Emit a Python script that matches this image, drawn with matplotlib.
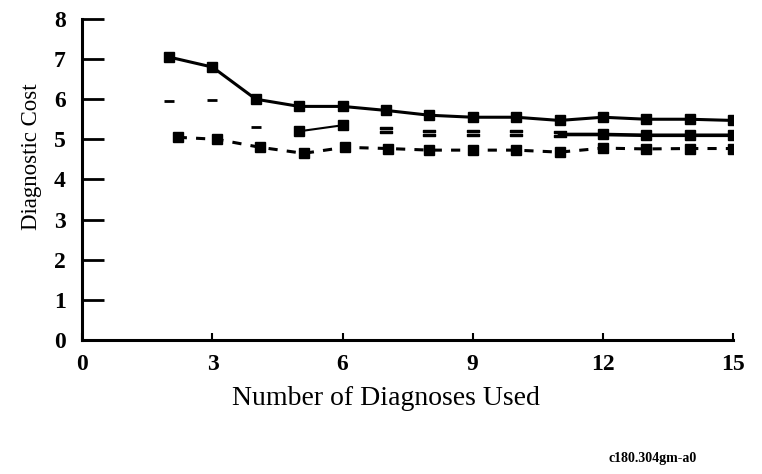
import matplotlib
matplotlib.use('Agg')
import matplotlib.pyplot as plt

# valeurs
diag_top = [2, 3, 4, 5, 6, 7, 8, 9, 10, 11, 12, 13, 14, 15]
cost_top = [7.05, 6.8, 6.0, 5.82, 5.82, 5.72, 5.6, 5.55, 5.55, 5.47, 5.55, 5.5, 5.5, 5.47]

diag_mid = [2, 3, 4, 5, 6, 7, 8, 9, 10, 11, 12, 13, 14, 15]
cost_mid = [5.95, 5.98, 5.3, 5.2, 5.35, 5.22, 5.15, 5.15, 5.15, 5.12, 5.12, 5.1, 5.1, 5.1]

diag_low = [2.2, 3.1, 4.1, 5.1, 6.05, 7.05, 8, 9, 10, 11, 12, 13, 14, 15]
cost_low = [5.05, 5.0, 4.8, 4.65, 4.8, 4.77, 4.73, 4.73, 4.73, 4.68, 4.78, 4.76, 4.77, 4.77]

xticks = [0, 3, 6, 9, 12, 15]
yticks = [0, 1, 2, 3, 4, 5, 6, 7, 8]

plt.rcParams['font.family'] = ['Liberation Serif', 'DejaVu Serif']

fig = plt.figure(figsize=(7.62, 4.74), dpi=100)
ax = fig.add_axes([0.108, 0.283, 0.854, 0.677])

# courbe du haut : trait plein
ax.plot(diag_top, cost_top, color='black', lw=2.2, marker='s', ms=7)

# courbe du milieu : mal imprimée, seulement des morceaux visibles
ax.plot(diag_mid[:3], cost_mid[:3], ls='none', marker='_', ms=7, mew=2, color='black')
ax.plot(diag_mid[3:5], cost_mid[3:5], color='black', lw=1.5, marker='s', ms=6.5)
ax.plot(diag_mid[5:10], cost_mid[5:10], ls='none', marker='$=$', ms=9, color='black')
ax.plot(diag_mid[9:], cost_mid[9:], color='black', lw=2.6, marker='s', ms=7, markevery=[1, 2, 3, 4])

# courbe du bas : tirets
ax.plot(diag_low, cost_low, color='black', lw=2.2, ls=(0, (3, 3)), marker='s', ms=7)

ax.set_xlim(0, 15)
ax.set_ylim(0, 8)
ax.set_xticks(xticks)
ax.set_yticks(yticks)
ax.spines['top'].set_visible(False)
ax.spines['right'].set_visible(False)
ax.spines['left'].set_linewidth(2.2)
ax.spines['bottom'].set_linewidth(2.2)
ax.tick_params(axis='y', direction='in', length=16, width=2, labelsize=17, pad=12)
ax.tick_params(axis='x', direction='in', length=5, width=1.5, labelsize=17, pad=10)
for lab in ax.get_xticklabels() + ax.get_yticklabels():
    lab.set_fontweight('bold')

ax.set_xlabel('Number of Diagnoses Used', fontsize=20)
ax.set_ylabel('Diagnostic Cost', fontsize=16.5)
ax.xaxis.set_label_coords(0.467, -0.145)
ax.yaxis.set_label_coords(-0.062, 0.57)

fig.text(0.857, 0.025, 'c180.304gm-a0', fontsize=10, fontweight='bold', ha='center')

fig.savefig('out.png', dpi=100)
